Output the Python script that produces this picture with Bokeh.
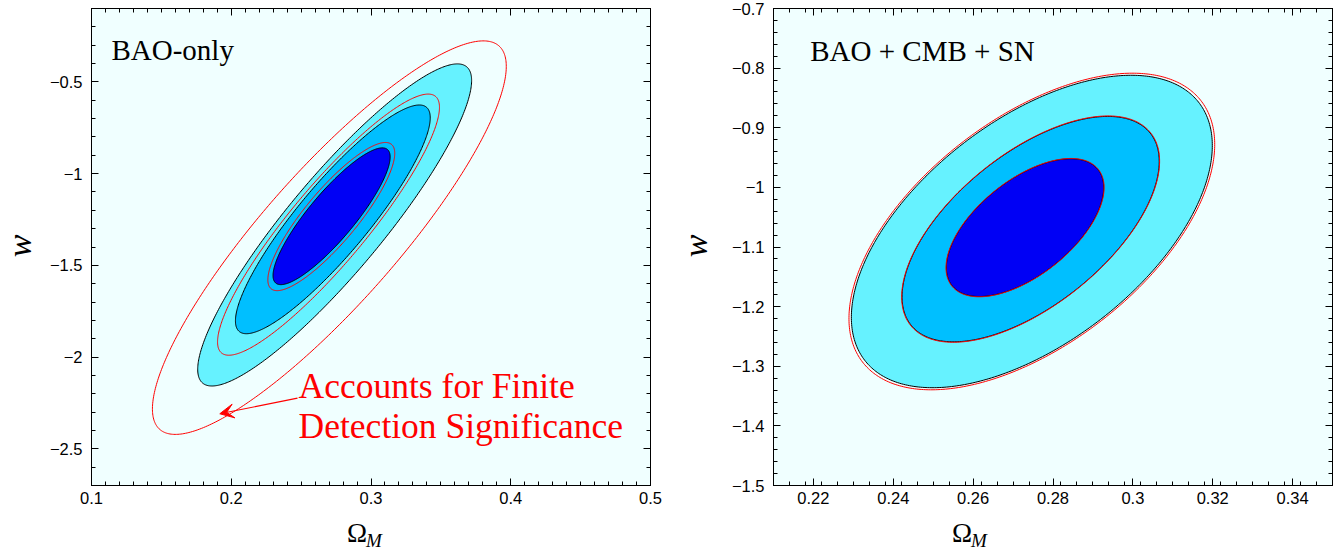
import numpy as np
from bokeh.plotting import figure
from bokeh.layouts import row, column
from bokeh.models import (LinearAxis, FixedTicker, CustomJSTickFormatter, Label,
                          Arrow, VeeHead, Div)
from bokeh.embed import file_html
from bokeh.resources import INLINE

# ---------------- data: left panel (BAO-only) ----------------
L_xrange = (0.1, 0.5)
L_yrange = (-2.7, -0.1)
L_x_ticks = [0.1, 0.2, 0.3, 0.4, 0.5]
L_x_labels = ["0.1", "0.2", "0.3", "0.4", "0.5"]
L_y_ticks = [-0.5, -1.0, -1.5, -2.0, -2.5]
L_y_labels = ["\u22120.5", "\u22121", "\u22121.5", "\u22122", "\u22122.5"]

# filled (black-outlined) confidence contours: outer -> inner
# (centre, half-extent in x, half-extent in y, correlation)
L_fill_cx = [0.2740, 0.2727, 0.2718]
L_fill_cy = [-1.2798, -1.2493, -1.2324]
L_fill_hw = [0.0980, 0.0697, 0.0419]
L_fill_hh = [0.8779, 0.6234, 0.3728]
L_fill_rho = [0.8963, 0.8877, 0.8662]
# red contours (finite detection significance): outer, middle, inner
L_red_cx = [0.2702, 0.2696, 0.2716]
L_red_cy = [-1.3490, -1.2782, -1.2341]
L_red_hw = [0.1266, 0.0794, 0.0454]
L_red_hh = [1.0725, 0.7117, 0.4038]
L_red_rho = [0.8703, 0.8981, 0.8537]

# ---------------- data: right panel (BAO + CMB + SN) ----------------
R_xrange = (0.21, 0.35)
R_yrange = (-1.5, -0.7)
R_x_ticks = [0.22, 0.24, 0.26, 0.28, 0.30, 0.32, 0.34]
R_x_labels = ["0.22", "0.24", "0.26", "0.28", "0.3", "0.32", "0.34"]
R_y_ticks = [-0.7, -0.8, -0.9, -1.0, -1.1, -1.2, -1.3, -1.4, -1.5]
R_y_labels = ["\u22120.7", "\u22120.8", "\u22120.9", "\u22121", "\u22121.1",
              "\u22121.2", "\u22121.3", "\u22121.4", "\u22121.5"]

R_fill_cx = [0.2747, 0.2744, 0.273]
R_fill_cy = [-1.074, -1.07, -1.0675]
R_fill_hw = [0.0452, 0.0322, 0.0197]
R_fill_hh = [0.262, 0.189, 0.1155]
R_fill_rho = [0.55, 0.6, 0.58]
R_red_cx = [0.2747, 0.2744, 0.273]
R_red_cy = [-1.074, -1.07, -1.0675]
R_red_hw = [0.0458, 0.0323, 0.0198]
R_red_hh = [0.2655, 0.1898, 0.116]
R_red_rho = [0.55, 0.6, 0.58]

FILL_COLORS = ["#66F2FF", "#00BFFF", "#0000F5"]

# annotation positions (data units)
L_title_pos = (0.1143, -0.325)
R_title_pos = (0.2192, -0.7716)
L_note_lines = ["Accounts for Finite", "Detection Significance"]
L_note_pos = [(0.2482, -2.16), (0.2482, -2.378)]
L_arrow = (0.2474, -2.224, 0.1918, -2.309)

PLOT_H = 520
LABEL_H = 30


def ellipse(cx, cy, hw, hh, rho, n=400):
    t = np.linspace(0, 2 * np.pi, n)
    d = np.arccos(rho)
    return cx + hw * np.cos(t), cy + hh * np.cos(t - d)


def formatter(tvals, tlabs):
    return CustomJSTickFormatter(args=dict(tvals=tvals, tlabs=tlabs), code="""
        let best = -1, bd = 1e9;
        for (let i = 0; i < tvals.length; i++) {
            const d = Math.abs(tvals[i] - tick);
            if (d < bd) { bd = d; best = i; }
        }
        return bd < 1e-6 ? tlabs[best] : "";
    """)


def style_axis(ax, show_labels=True):
    ax.major_tick_in = 7
    ax.major_tick_out = 0
    ax.minor_tick_in = 4
    ax.minor_tick_out = 0
    ax.axis_line_color = "black"
    ax.major_tick_line_color = "black"
    ax.minor_tick_line_color = "black"
    if show_labels:
        ax.major_label_text_font = "Liberation Sans"
        ax.major_label_text_font_size = "16.5px"
        ax.major_label_text_color = "black"
    else:
        ax.formatter = CustomJSTickFormatter(code="return ''")
        ax.major_label_text_font_size = "1px"
        ax.major_label_standoff = 0


def make_panel(xr, yr, xt, xl, xminor, yt, yl, yminor, width, bl, br,
               fills, reds, title, title_pos):
    p = figure(width=width, height=PLOT_H, x_range=xr, y_range=yr,
               output_backend="svg", toolbar_location=None,
               min_border_left=bl, min_border_right=br,
               min_border_top=8, min_border_bottom=PLOT_H - 485,
               background_fill_color="#F0FFFF", border_fill_color="white",
               outline_line_color="black", outline_line_width=1)
    p.grid.visible = False
    xtick = FixedTicker(ticks=xt, minor_ticks=xminor)
    ytick = FixedTicker(ticks=yt, minor_ticks=yminor)
    p.xaxis.ticker = xtick
    p.yaxis.ticker = ytick
    p.xaxis.formatter = formatter(xt, xl)
    p.yaxis.formatter = formatter(yt, yl)
    for ax in p.xaxis + p.yaxis:
        style_axis(ax)
    p.xaxis.major_label_standoff = 6
    p.yaxis.major_label_standoff = 9

    top = LinearAxis(ticker=xtick)
    style_axis(top, False)
    p.add_layout(top, "above")
    right = LinearAxis(ticker=ytick)
    style_axis(right, False)
    p.add_layout(right, "right")

    cx, cy, hw, hh, rho = fills
    for i in range(len(cx)):
        x, y = ellipse(cx[i], cy[i], hw[i], hh[i], rho[i])
        p.patch(x, y, fill_color=FILL_COLORS[i], line_color="black", line_width=1)
    cx, cy, hw, hh, rho = reds
    for i in range(len(cx)):
        x, y = ellipse(cx[i], cy[i], hw[i], hh[i], rho[i])
        p.line(x, y, line_color="red", line_width=1)

    p.add_layout(Label(x=title_pos[0], y=title_pos[1], text=title,
                       text_font="Liberation Serif", text_font_size="29px",
                       text_color="black", text_baseline="alphabetic"))
    return p


def ylabel_div(width, box_left, center_y):
    bw = 38
    html = (
        f'<div style="position:relative;width:{width}px;height:{PLOT_H}px;">'
        f'<div style="position:absolute;left:{box_left}px;top:{center_y - bw / 2}px;'
        f'width:{bw}px;height:{bw}px;line-height:{bw}px;text-align:center;'
        f'font-family:\'Liberation Serif\';font-style:italic;font-size:34px;'
        f'color:black;transform:rotate(-90deg);">w</div></div>'
    )
    return Div(text=html, width=width, height=PLOT_H, margin=0)


def xlabel_div(width, omega_left):
    html = (
        f'<div style="position:relative;width:{width}px;height:{LABEL_H}px;">'
        f'<div style="position:absolute;left:{omega_left}px;top:0px;'
        f'white-space:nowrap;font-family:\'Liberation Serif\';font-size:27px;'
        f'line-height:27px;color:black;">\u03a9<span style="font-style:italic;'
        f'font-size:19px;position:relative;top:5px;margin-left:-1px;">M</span>'
        f'</div></div>'
    )
    return Div(text=html, width=width, height=LABEL_H, margin=0)


L_xminor = list(np.round(np.arange(0.1, 0.5001, 0.01), 4))
L_yminor = list(np.round(np.arange(-2.7, -0.0999, 0.1), 4))
R_xminor = list(np.round(np.arange(0.21, 0.3501, 0.004), 4))
R_yminor = list(np.round(np.arange(-1.5, -0.6999, 0.02), 4))

p1 = make_panel(L_xrange, L_yrange, L_x_ticks, L_x_labels, L_xminor,
                L_y_ticks, L_y_labels, L_yminor, 631, 51, 21,
                (L_fill_cx, L_fill_cy, L_fill_hw, L_fill_hh, L_fill_rho),
                (L_red_cx, L_red_cy, L_red_hw, L_red_hh, L_red_rho),
                "BAO-only", L_title_pos)

for (tx, ty), txt in zip(L_note_pos, L_note_lines):
    p1.add_layout(Label(x=tx, y=ty, text=txt, text_font="Liberation Serif",
                        text_font_size="35.5px", text_color="red",
                        text_baseline="alphabetic"))
p1.add_layout(Arrow(x_start=L_arrow[0], y_start=L_arrow[1],
                    x_end=L_arrow[2], y_end=L_arrow[3],
                    line_color="red", line_width=1.2,
                    end=VeeHead(size=14, fill_color="red", line_color="red",
                                line_width=1)))

p2 = make_panel(R_xrange, R_yrange, R_x_ticks, R_x_labels, R_xminor,
                R_y_ticks, R_y_labels, R_yminor, 632, 62, 11,
                (R_fill_cx, R_fill_cy, R_fill_hw, R_fill_hh, R_fill_rho),
                (R_red_cx, R_red_cy, R_red_hw, R_red_hh, R_red_rho),
                "BAO + CMB + SN", R_title_pos)

w1 = ylabel_div(40, 1, 246)
w2 = ylabel_div(40, 6, 246)
o1 = xlabel_div(671, 347)
o2 = xlabel_div(672, 281)

layout = column(row(w1, p1, w2, p2, spacing=0), row(o1, o2, spacing=0), spacing=0)
open("out.html", "w").write(file_html(layout, INLINE))
